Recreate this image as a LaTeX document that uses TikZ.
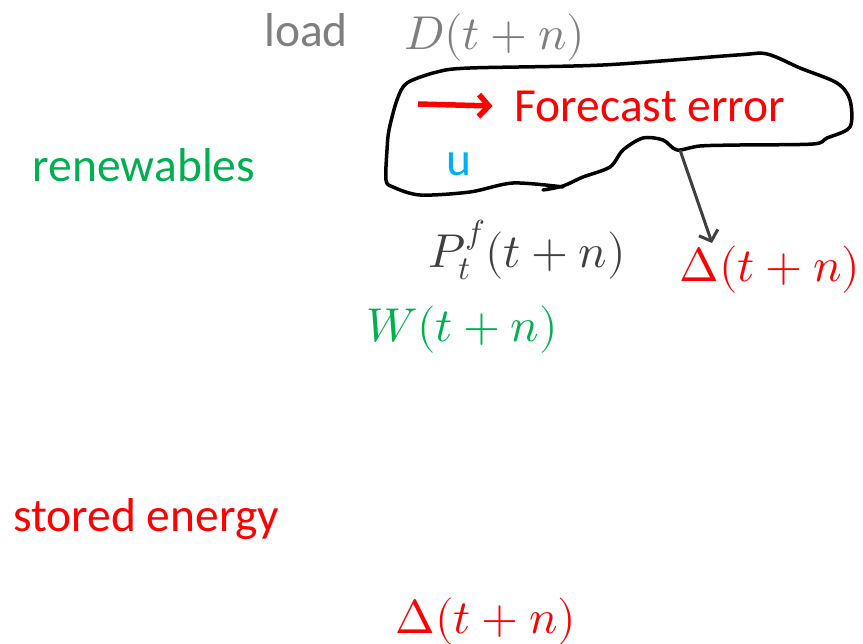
\documentclass[tikz,border=0pt]{standalone}
\usepackage{fontspec}
\usepackage{unicode-math}
\setmainfont{Carlito}
\setmathfont{Latin Modern Math}
\usetikzlibrary{positioning,arrows.meta,calc}
\definecolor{loadgray}{HTML}{7F7F7F}
\definecolor{darkgray}{HTML}{404040}
\definecolor{renewgreen}{HTML}{00B050}
\definecolor{errred}{HTML}{FF0000}
\definecolor{ucyan}{HTML}{00B0F0}

\begin{document}
\begin{tikzpicture}[x=1pt,y=-1pt,
  lbl/.style={inner sep=0pt, font=\fontsize{47.5}{52}\selectfont},
  mlbl/.style={inner sep=0pt, font=\fontsize{47.5}{52}\selectfont},
  redarrow/.style={draw=errred, line width=5.5pt, -{Straight Barb[length=10pt,width=22pt,line width=5.5pt]}},
  grayarrow/.style={draw=darkgray, line width=3pt, -{Straight Barb[length=9pt,width=20pt,line width=3pt]}}]
\useasboundingbox (0,0) rectangle (863,644);
\node[lbl, text=loadgray] (load) at (306,30) {load};
\node[mlbl, text=loadgray] (demand) at (495,38) {$D(t+n)$};
\node[lbl, text=errred] (fe) at (650,106) {Forecast error};
\node[lbl, text=renewgreen] (renew) at (144,165) {renewables};
\node[lbl, text=ucyan] (u) at (459,164) {u};
\node[mlbl, text=darkgray] (pf) at (527,250) {$P_t^f(t+n)$};
\node[mlbl, text=errred] (delta) at (770,270) {$\Delta(t+n)$};
\node[mlbl, text=renewgreen] (wind) at (462,330) {$W(t+n)$};
\node[lbl, text=errred] (stored) at (146,519) {stored energy};
\node[mlbl, text=errred] (delta2) at (486,622) {$\Delta(t+n)$};
% hand drawn loop
\draw[line width=3.5pt, line join=round, line cap=round] plot[smooth, tension=0.5] coordinates {
  (543,190) (563,186) (583,177) (610,167) (623,150) (643,138) (663,140)
  (677,150) (700,146) (740,145) (813,144) (827,138) (850,127) (850,100)
  (837,83) (800,68) (767,54) (737,55) (603,65) (470,68) (437,72)
  (407,83) (397,100) (389,130) (387,150) (386,180) (393,187) (420,195)
  (470,192) (513,183) (563,187)};
\coordinate (arrstart) at (418,104);
\draw[redarrow] (arrstart) -- ([xshift=-22]fe.west);
\coordinate (blobpt) at (680,150);
\coordinate (errend) at (712,243);
\draw[grayarrow] (blobpt) -- (errend);
\end{tikzpicture}
\end{document}
